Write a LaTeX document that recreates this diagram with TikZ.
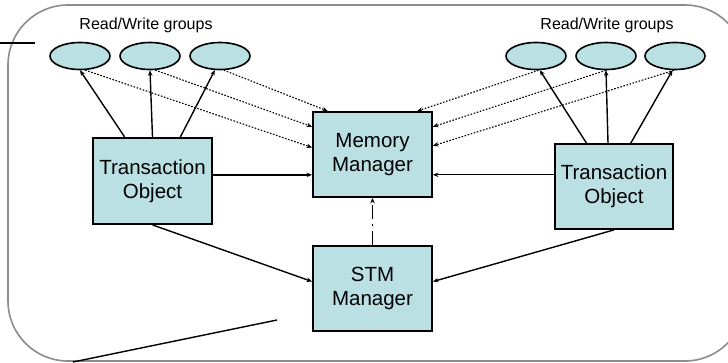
\documentclass[tikz,border=0pt]{standalone}
\usepackage{fontspec}
\setmainfont{Liberation Sans}
\usetikzlibrary{arrows.meta,calc,shapes.geometric}

\definecolor{boxfill}{HTML}{BBE0E3}
\definecolor{framegray}{HTML}{8C8C8C}

\tikzset{
  unit/.style={draw=black, line width=1.8pt, fill=boxfill, minimum width=119pt,
    minimum height=86pt, inner sep=0pt, align=center, font=\fontsize{20.5}{24}\selectfont},
  group/.style={ellipse, draw=black, line width=1.6pt, fill=boxfill,
    minimum width=60pt, minimum height=27pt, inner sep=0pt},
  grouplabel/.style={font=\fontsize{16}{19}\selectfont, inner sep=0pt},
  tip/.style={-{Stealth[length=5.5pt,width=4.5pt]}},
  link/.style={tip, line width=1.4pt},
  lookup/.style={tip, line width=1.1pt, dash pattern=on 1.6pt off 1.6pt},
  control/.style={tip, line width=1.4pt, dash pattern=on 14pt off 5pt on 2pt off 5pt},
}

\begin{document}
\begin{tikzpicture}[x=1pt, y=-1pt]
\useasboundingbox (0,0) rectangle (728,362);

% outer rounded frame (runs past the right edge)
\begin{scope}
  \clip (0,0) rectangle (728,362);
  \draw[framegray, line width=1.6pt, rounded corners=60pt] (8,5) rectangle (745,361);
\end{scope}

% stray lines
\coordinate (ta) at (0,43);
\coordinate (tb) at (35,43);
\draw[line width=1.4pt] (ta) -- (tb);
\coordinate (ba) at (73,362);
\coordinate (bb) at (277,320);
\draw[line width=1.4pt] (ba) -- (bb);

% labels
\node[grouplabel] (lblL) at (146,25) {Read/Write groups};
\node[grouplabel] (lblR) at (607,25) {Read/Write groups};

% read/write groups
\node[group] (e1) at (80,56) {};
\node[group] (e2) at (150,56) {};
\node[group] (e3) at (220,56) {};
\node[group] (e4) at (536,56) {};
\node[group] (e5) at (606,56) {};
\node[group] (e6) at (675,56) {};

% main boxes
\node[unit] (to1) at (152.5,181) {Transaction\\Object};
\node[unit, minimum width=118pt, minimum height=85pt] (to2) at (614,186.5) {Transaction\\Object};
\node[unit, minimum height=85pt] (mm) at (372.5,154.5) {Memory\\Manager};
\node[unit, minimum height=85pt] (stm) at (372.5,288.5) {STM\\Manager};

% transaction objects to their groups
\draw[link] ($(to1.north west)!0.27!(to1.north east)$) -- (e1.south);
\draw[link] (to1.north) -- (e2.south);
\draw[link] ($(to1.north west)!0.73!(to1.north east)$) -- (e3.250);
\draw[link] ($(to2.north west)!0.27!(to2.north east)$) -- (e4.285);
\draw[link] ($(to2.north west)!0.45!(to2.north east)$) -- (e5.south);
\draw[link] ($(to2.north west)!0.64!(to2.north east)$) -- (e6.260);

% groups to the memory manager
\draw[lookup] (e1.290) -- ($(mm.north west)!0.42!(mm.south west)$);
\draw[lookup] (e2.290) -- ($(mm.north west)!0.18!(mm.south west)$);
\draw[lookup] (e3.285) -- ($(mm.north west)!0.13!(mm.north east)$);
\draw[lookup] (e4.280) -- ($(mm.north west)!0.87!(mm.north east)$);
\draw[lookup] (e5.south) -- ($(mm.north east)!0.18!(mm.south east)$);
\draw[lookup] (e6.265) -- ($(mm.north east)!0.40!(mm.south east)$);

% transaction objects to the managers
\coordinate (l1) at ($(to1.north east)!0.43!(to1.south east)$);
\draw[link] (l1) -- (mm.west |- l1);
\coordinate (r1) at ($(to2.north west)!0.365!(to2.south west)$);
\draw[link] (r1) -- (mm.east |- r1);
\draw[link] (to1.south) -- ($(stm.north west)!0.42!(stm.south west)$);
\draw[link] (to2.south) -- ($(stm.north east)!0.42!(stm.south east)$);

% STM manager to memory manager
\draw[control] (stm.north) -- (mm.south);
\end{tikzpicture}
\end{document}
